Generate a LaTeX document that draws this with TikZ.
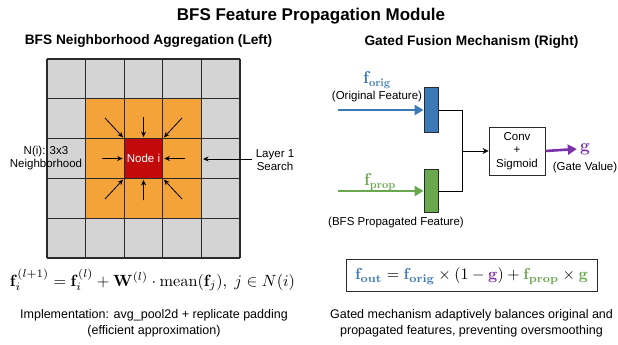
\documentclass[tikz,border=0pt]{standalone}
\usepackage[no-math]{fontspec}
\setmainfont{Liberation Sans}
\usepackage{amsmath}
\usepackage{graphicx}
\usetikzlibrary{arrows.meta}

\definecolor{cellgray}{HTML}{D4D4D4}
\definecolor{cellorange}{HTML}{F4A23A}
\definecolor{cellred}{HTML}{C20A0A}
\definecolor{origblue}{HTML}{3C79B6}
\definecolor{propgreen}{HTML}{6AA84F}
\definecolor{gatepurple}{HTML}{7A30A8}
\definecolor{gridline}{HTML}{2A2A2A}

\tikzset{
  titletext/.style={font=\fontsize{17}{20}\selectfont\bfseries},
  subtitletext/.style={font=\fontsize{13.7}{16}\selectfont\bfseries},
  labeltext/.style={font=\fontsize{11.5}{13.5}\selectfont, align=center, inner sep=0pt},
  notetext/.style={font=\fontsize{12.5}{16}\selectfont, align=center, inner sep=0pt},
  pointer/.style={line width=0.8pt, -{Stealth[length=5.5pt,width=5pt]}},
  featarrow/.style={line width=2.6pt, -{Triangle[length=9pt,width=10pt]}},
  featbar/.style={draw=gridline, line width=0.8pt, minimum width=14pt, inner sep=0pt},
  wire/.style={line width=0.8pt, draw=black},
}

\begin{document}
\begin{tikzpicture}[x=1pt,y=-1pt]
\useasboundingbox (0,0) rectangle (618,345);
\fill[white] (0,0) rectangle (618,345);

% headings
\node[titletext] (title) at (311,16) {BFS Feature Propagation Module};
\node[subtitletext] (lefthead) at (148.5,41) {BFS Neighborhood Aggregation (Left)};
\node[subtitletext] (righthead) at (471.5,42) {Gated Fusion Mechanism (Right)};

% 5x5 grid of cells
\def\cw{38.6}
\def\ch{39.8}
\foreach \i in {0,...,4}{
  \foreach \j in {0,...,4}{
    \pgfmathsetmacro{\ring}{(\i>0)*(\i<4)*(\j>0)*(\j<4)}
    \ifdim\ring pt>0.5pt
      \fill[cellorange] ({47+\i*\cw},{59+\j*\ch}) rectangle ++(\cw,\ch);
    \else
      \fill[cellgray] ({47+\i*\cw},{59+\j*\ch}) rectangle ++(\cw,\ch);
    \fi
  }
}
\foreach \k in {0,...,5}{
  \draw[gridline, line width=1.1pt] ({47+\k*\cw},59) -- ({47+\k*\cw},{59+5*\ch});
  \draw[gridline, line width=1.1pt] (47,{59+\k*\ch}) -- ({47+5*\cw},{59+\k*\ch});
}

% centre node
\node[fill=cellred, draw=gridline, line width=1.1pt, minimum width=\cw pt, minimum height=\ch pt,
      inner sep=0pt, text=white, font=\fontsize{11.5}{13}\selectfont] (nodei)
      at ({47+2.5*\cw},{59+2.5*\ch}) {Node i};

% neighbours pointing inward
\coordinate (ntl) at (105,118);
\coordinate (nt)  at (143.6,117);
\coordinate (ntr) at (182,118);
\coordinate (nl)  at (102,158.5);
\coordinate (nr)  at (185,158.5);
\coordinate (nbl) at (105,199);
\coordinate (nb)  at (143.6,200);
\coordinate (nbr) at (182,199);
\draw[pointer, shorten >=1pt] (ntl) -- (nodei.north west);
\draw[pointer, shorten >=1pt] (nt)  -- (nodei.north);
\draw[pointer, shorten >=1pt] (ntr) -- (nodei.north east);
\draw[pointer, shorten >=1pt] (nl)  -- (nodei.west);
\draw[pointer, shorten >=1pt] (nr)  -- (nodei.east);
\draw[pointer, shorten >=1pt] (nbl) -- (nodei.south west);
\draw[pointer, shorten >=1pt] (nb)  -- (nodei.south);
\draw[pointer, shorten >=1pt] (nbr) -- (nodei.south east);

% side labels
\node[labeltext] (nbhd) at (46,158) {N(i): 3x3\\Neighborhood};
\node[labeltext] (layer) at (275,160) {Layer 1\\Search};
\coordinate (layertip) at (203,159);
\draw[pointer] (layer.west |- layertip) ++(-4,0) -- (layertip);

% update rule
\node[inner sep=0pt] (rule) at (152.5,280)
  {\resizebox{285pt}{!}{$\mathbf{f}_i^{(l+1)} = \mathbf{f}_i^{(l)} + \mathbf{W}^{(l)} \cdot \mathrm{mean}(\mathbf{f}_j),\ j \in N(i)$}};

\node[notetext] (impl) at (154,323.5) {Implementation: avg\_pool2d + replicate padding\\(efficient approximation)};

% gated fusion
\node[inner sep=0pt, font=\fontsize{16}{18}\selectfont] (forig) at (377,80)
  {$\color{origblue}\mathbf{f}_{\mathbf{orig}}$};
\node[labeltext] (origlab) at (377,97) {(Original Feature)};
\node[featbar, fill=origblue, minimum height=45pt] (borig) at (431,110) {};
\coordinate (origin) at (338,110);
\draw[featarrow, origblue] (origin) -- (borig.west);

\node[inner sep=0pt, font=\fontsize{16}{18}\selectfont] (fprop) at (380,182)
  {$\color{propgreen}\mathbf{f}_{\mathbf{prop}}$};
\node[labeltext] (proplab) at (396,223) {(BFS Propagated Feature)};
\node[featbar, fill=propgreen, minimum height=43pt] (gprop) at (431,191) {};
\coordinate (propin) at (338,191);
\draw[featarrow, propgreen] (propin) -- (gprop.west);

\node[draw=gridline, line width=0.8pt, minimum width=56pt, minimum height=48pt, align=center,
      font=\fontsize{11.5}{13.5}\selectfont, inner sep=0pt] (conv) at (517,151) {Conv\\+\\Sigmoid};

\coordinate (joint) at (462,151);
\draw[wire] (borig.east) -| (joint);
\draw[wire] (gprop.east) -| (joint);
\draw[wire, -{Stealth[length=6pt,width=6pt]}] (joint) -- (conv.west);

\node[inner sep=0pt, font=\fontsize{17}{18}\selectfont] (gout) at (585,149)
  {$\color{gatepurple}\mathbf{g}$};
\node[labeltext] (gatelab) at (585,168) {(Gate Value)};
\draw[featarrow, gatepurple] (conv.east) -- ([xshift=-3pt]gout.west);

% fusion rule
\node[draw=gridline, line width=1pt, fill=white, minimum width=251pt, minimum height=32pt,
      inner sep=0pt] (fusebox) at (471.5,275) {};
\node[inner sep=0pt] (fuse) at (471.5,276)
  {\resizebox{233pt}{!}{$\color{origblue}\mathbf{f}_{\mathbf{out}} \color{black}= \color{origblue}\mathbf{f}_{\mathbf{orig}} \color{black}\times (1 - \color{gatepurple}\mathbf{g}\color{black}) + \color{propgreen}\mathbf{f}_{\mathbf{prop}} \color{black}\times \color{propgreen}\mathbf{g}$}};

\node[notetext] (gatenote) at (471.5,323.5) {Gated mechanism adaptively balances original and\\propagated features, preventing oversmoothing};
\end{tikzpicture}
\end{document}
